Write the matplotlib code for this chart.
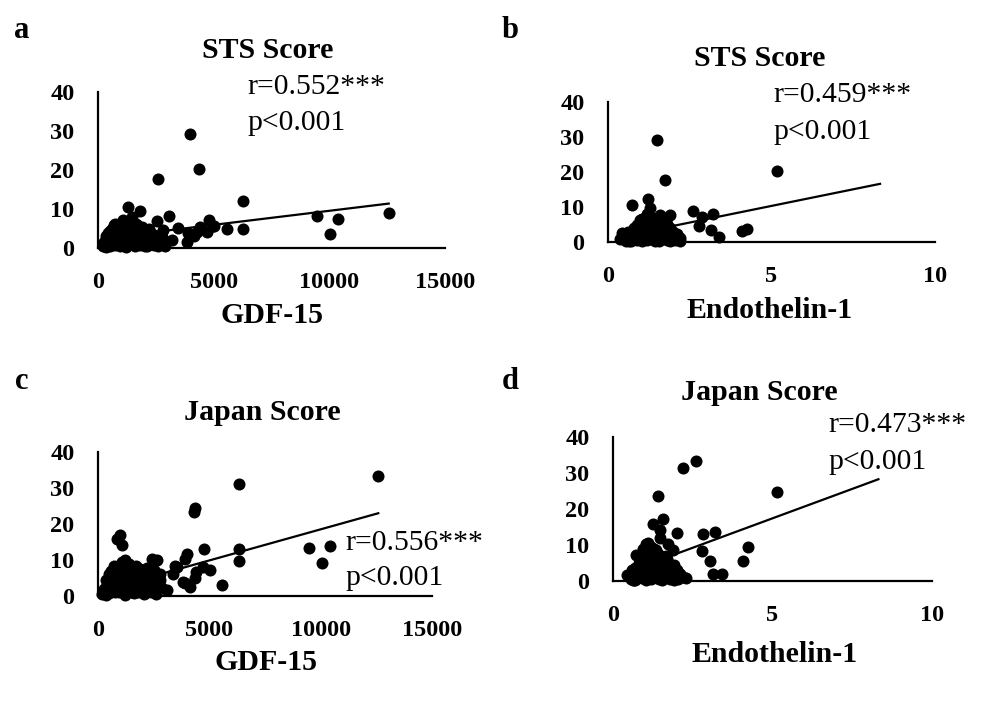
import matplotlib
matplotlib.use("Agg")
import matplotlib.pyplot as plt
import numpy as np

# ---------------- data ----------------
# Panel a: STS score vs GDF-15
a_x = [3977, 4367, 2580, 6283, 1311, 1816, 3070, 12567, 9482, 10392, 10030, 6283, 5592, 5029, 4799,
       3445, 2566, 1456, 1643, 735, 447, 2176, 3905, 3833, 3185, 2896, 4700, 4410, 4985, 2753, 4150, 4300,
       200, 300, 350, 400, 450, 500, 550, 600, 650, 700, 750, 800, 850, 900, 950, 1000, 1050, 1100, 1150,
       1200, 1250, 1300, 1350, 1400, 1450, 1500, 1550, 1600, 1650, 1700, 1750, 1800, 1850, 1900, 1950,
       2000, 2050, 2100, 2150, 2200, 2300, 2400, 2500, 2600, 2700, 2800, 900, 1100, 1200, 700, 600, 1000,
       1300, 1500, 1700, 800, 500, 1250, 1600, 950, 1400, 1800, 2200, 350, 2400, 1900, 2050, 1150,
       250, 450, 650, 850, 1050, 1250, 1450, 1650, 1850, 2050, 2250, 2450, 2650, 750, 1150, 1550, 1950,
       1350, 950, 2350]
a_y = [29.2, 20.3, 17.6, 12.0, 10.5, 9.5, 8.1, 9.1, 8.1, 7.4, 3.5, 4.8, 4.9, 5.7, 7.2,
       5.2, 6.8, 8.0, 6.1, 6.2, 3.8, 4.0, 3.8, 1.6, 2.1, 0.5, 4.2, 5.3, 5.6, 2.7, 3.0, 4.0,
       0.4, 1.0, 0.2, 2.2, 1.5, 0.6, 3.0, 1.8, 4.2, 2.5, 0.8, 5.2, 3.5, 1.2, 2.8, 6.5, 4.5, 2.0, 0.5,
       5.8, 3.2, 1.5, 4.0, 6.8, 2.4, 0.9, 5.0, 3.6, 1.8, 4.4, 2.6, 0.7, 3.0, 5.4, 1.4,
       2.2, 3.8, 0.6, 1.6, 2.9, 1.0, 3.4, 2.0, 0.4, 1.5, 4.6, 4.8, 7.2, 0.2, 6.0, 5.0, 1.0,
       6.2, 4.6, 6.0, 2.0, 4.4, 2.0, 0.5, 5.6, 3.0, 1.9, 4.8, 3.2, 0.8, 3.9, 0.4, 3.4,
       1.5, 3.0, 2.0, 4.5, 3.0, 5.0, 4.5, 3.0, 2.0, 2.5, 1.8, 2.5, 3.0, 3.5, 1.8, 2.0, 4.2,
       2.6, 0.6, 3.6]

# Panel b: STS score vs Endothelin-1
b_x = [1.49, 1.74, 5.16, 1.23, 0.72, 1.28, 2.61, 3.22, 2.87, 1.90, 1.59, 0.98, 2.79, 3.15, 3.40, 4.11,
       4.24, 0.42, 0.37, 2.10, 2.20,
       0.55, 0.6, 0.65, 0.7, 0.75, 0.8, 0.85, 0.9, 0.95, 1.0, 1.0, 1.05, 1.1, 1.1, 1.15, 1.15, 1.2, 1.2,
       1.25, 1.25, 1.3, 1.3, 1.35, 1.35, 1.4, 1.4, 1.45, 1.45, 1.5, 1.5, 1.55, 1.6, 1.6, 1.65, 1.7, 1.7,
       1.75, 1.8, 1.8, 1.85, 1.9, 1.95, 2.0, 2.05, 2.1, 0.9, 1.05, 1.2, 1.35, 0.7, 1.55, 1.9, 2.2, 1.25,
       1.45, 0.85, 1.65, 1.0,
       0.6, 0.8, 0.95, 1.05, 1.15, 1.3, 1.5, 1.7, 1.85, 2.0, 1.4, 1.15, 1.6, 0.75, 1.95]
b_y = [29.1, 17.7, 20.4, 12.2, 10.5, 9.6, 8.9, 8.0, 7.2, 7.7, 7.7, 6.3, 4.7, 3.4, 1.3, 3.2,
       3.6, 2.5, 0.8, 2.0, 1.1,
       0.4, 1.5, 0.2, 2.8, 1.0, 4.0, 2.2, 0.6, 3.5, 5.2, 1.8, 0.3, 4.6, 2.6, 6.2, 1.2, 3.4, 0.5,
       5.6, 2.0, 7.0, 3.8, 1.0, 4.8, 2.4, 6.0, 0.4, 3.2, 5.0, 1.6, 2.8, 4.2, 0.8, 6.4, 2.0, 3.6,
       1.2, 5.2, 0.5, 2.6, 4.0, 1.4, 3.0, 0.6, 2.4, 5.0, 6.6, 8.0, 6.8, 0.3, 0.3, 0.2, 0.4, 4.0,
       5.6, 3.2, 4.8, 3.0,
       3.0, 2.6, 1.4, 3.8, 4.0, 2.4, 3.6, 4.8, 1.2, 1.6, 0.9, 5.4, 2.6, 2.0, 2.8]

# Panel c: Japan score vs GDF-15
c_x = [12587, 6345, 4356, 4325, 988, 1063, 868, 9488, 10418, 10044, 6345, 6345, 4773, 3983, 3907, 5029,
       3457, 3382, 4401, 4356, 4131, 3907, 5582, 2410, 2635, 1212, 3085, 2860, 2186, 2784, 4728, 3832, 3533,
       200, 300, 350, 400, 450, 500, 550, 600, 650, 700, 750, 800, 850, 900, 950, 1000, 1050, 1100, 1150,
       1200, 1250, 1300, 1350, 1400, 1450, 1500, 1550, 1600, 1650, 1700, 1750, 1800, 1850, 1900, 1950,
       2000, 2050, 2100, 2150, 2200, 2300, 2400, 2500, 2600, 2700, 2800, 900, 1100, 1200, 700, 600, 1000,
       1300, 1500, 1700, 800, 500, 1250, 1600, 950, 1400, 1800, 2200, 350, 2400, 1900, 2050, 1150, 2500, 2700,
       250, 450, 650, 850, 1050, 1250, 1450, 1650, 1850, 2050, 2250, 2450, 2650, 750, 1150, 1550, 1950,
       1350, 950, 2350]
c_y = [33.3, 31.0, 24.4, 23.2, 16.9, 14.2, 15.7, 13.4, 13.9, 9.3, 13.1, 9.7, 13.0, 11.7, 10.2, 7.2,
       8.4, 6.1, 6.8, 4.9, 2.4, 3.7, 3.1, 10.2, 10.0, 10.0, 1.7, 2.1, 7.7, 4.4, 8.0, 4.0, 8.1,
       0.5, 1.5, 0.3, 3.0, 2.0, 0.8, 4.5, 2.5, 6.0, 3.5, 1.0, 7.5, 5.0, 1.8, 4.0, 8.5, 6.5, 3.0, 0.8,
       8.0, 4.8, 2.2, 6.0, 9.0, 3.5, 1.2, 7.0, 5.2, 2.6, 6.4, 3.8, 1.0, 4.4, 7.5, 2.0,
       3.2, 5.6, 0.9, 2.4, 4.2, 1.5, 5.0, 3.0, 0.6, 2.2, 6.0, 6.8, 9.5, 0.3, 8.2, 7.0, 1.5,
       8.6, 6.4, 8.3, 3.0, 6.0, 3.0, 0.8, 7.8, 4.4, 2.8, 6.6, 4.5, 1.2, 5.6, 0.6, 5.0, 7.2, 4.0,
       2.0, 4.0, 3.0, 6.0, 4.0, 6.5, 5.5, 4.0, 2.5, 3.5, 2.5, 3.5, 4.5, 5.0, 2.5, 3.0, 6.0,
       3.6, 1.0, 5.0]

# Panel d: Japan score vs Endothelin-1
d_x = [2.60, 2.18, 5.13, 1.40, 1.58, 1.24, 1.47, 2.00, 2.83, 3.20, 1.47, 1.73, 4.24, 1.02, 2.78, 0.72,
       4.09, 3.04, 3.14, 3.41, 0.43, 0.64, 1.89, 1.11,
       0.55, 0.6, 0.65, 0.7, 0.75, 0.8, 0.85, 0.9, 0.95, 1.0, 1.0, 1.05, 1.1, 1.1, 1.15, 1.15, 1.2, 1.2,
       1.25, 1.25, 1.3, 1.3, 1.35, 1.35, 1.4, 1.4, 1.45, 1.45, 1.5, 1.5, 1.55, 1.6, 1.6, 1.65, 1.7, 1.7,
       1.75, 1.8, 1.8, 1.85, 1.9, 1.95, 2.0, 2.05, 2.1, 2.2, 2.3, 0.9, 1.05, 1.2, 1.35, 0.7, 1.55, 1.9,
       1.25, 1.45, 0.85, 1.65, 1.0, 0.95,
       0.6, 0.8, 0.95, 1.05, 1.15, 1.3, 1.5, 1.7, 1.85, 2.0, 1.4, 1.15, 1.6, 0.75, 1.95, 1.1, 1.3]
d_y = [33.4, 31.3, 24.8, 23.6, 17.2, 15.8, 14.2, 13.2, 13.0, 13.5, 11.9, 10.3, 9.5, 10.3, 8.3, 7.2,
       5.6, 5.6, 1.9, 1.9, 1.7, 0.3, 8.6, 10.5,
       0.5, 2.0, 0.3, 3.5, 1.2, 5.0, 2.8, 0.8, 4.4, 6.5, 2.2, 0.4, 5.8, 3.2, 7.8, 1.5, 4.2, 0.6,
       7.0, 2.5, 8.8, 4.8, 1.2, 6.0, 3.0, 7.5, 0.5, 4.0, 6.2, 2.0, 3.5, 5.2, 1.0, 4.0, 2.4, 6.0,
       1.5, 3.6, 0.6, 2.6, 4.4, 1.4, 3.0, 0.6, 2.0, 1.2, 0.8, 6.4, 8.4, 9.4, 8.6, 0.4, 0.4, 0.2,
       5.4, 7.2, 4.8, 7.0, 4.0, 9.0,
       3.0, 3.5, 1.8, 5.0, 5.4, 3.2, 4.6, 4.6, 1.4, 1.8, 1.4, 6.8, 3.2, 2.4, 3.0, 8.0, 6.6]

# Linear trend lines: (intercept, slope, x_start, x_end)
a_fit = (2.33, 0.000721, 200, 12567)
b_fit = (0.81, 1.90, 0.37, 8.32)
c_fit = (1.24, 0.001728, 200, 12587)
d_fit = (1.06, 3.27, 0.43, 8.32)

titles = ["STS Score", "STS Score", "Japan Score", "Japan Score"]
xlabels = ["GDF-15", "Endothelin-1", "GDF-15", "Endothelin-1"]
r_texts = ["r=0.552***", "r=0.459***", "r=0.556***", "r=0.473***"]
p_text = "p<0.001"
panel_letters = ["a", "b", "c", "d"]
gdf_ticks = [0, 5000, 10000, 15000]
et_ticks = [0, 5, 10]
y_ticks = [0, 10, 20, 30, 40]

# ---------------- layout ----------------
W, H = 986, 710
fig = plt.figure(figsize=(W / 100, H / 100), dpi=100)
plt.rcParams['font.family'] = ['Liberation Serif', 'DejaVu Serif']

def fx(px):
    return px / W

def fy(py):
    return 1 - py / H

# axes boxes in pixels: left, right, top, bottom
boxes = [(98, 445, 92, 248), (608, 935, 102, 242), (98, 432, 452, 596), (613, 932, 437, 581)]
datasets = [(a_x, a_y, a_fit, gdf_ticks, 15000), (b_x, b_y, b_fit, et_ticks, 10),
            (c_x, c_y, c_fit, gdf_ticks, 15000), (d_x, d_y, d_fit, et_ticks, 10)]

title_pos = [(268, 50), (760, 58), (262, 412), (759, 393)]
xlabel_pos = [(272, 315), (770, 310), (266, 663), (775, 655)]
r_pos = [(247, 87), (773, 95), (345, 543), (828, 425)]
p_pos = [(247, 123), (773, 132), (345, 578), (828, 462)]
letter_pos = [(22, 30), (510, 30), (22, 382), (510, 382)]

for i in range(4):
    l, r, t, b = boxes[i]
    ax = fig.add_axes([fx(l), fy(b), (r - l) / W, (b - t) / H])
    xs, ys, fit, xt, xmax = datasets[i]
    ax.scatter(xs, ys, s=75, color='black', linewidths=0, zorder=3, clip_on=False)
    b0, b1, x0, x1 = fit
    lx = np.array([x0, x1])
    ax.plot(lx, b0 + b1 * lx, color='black', lw=1.6, zorder=2)
    ax.set_xlim(0, xmax)
    ax.set_ylim(0, 40)
    ax.set_xticks(xt)
    ax.set_yticks(y_ticks)
    ax.set_xticklabels([str(v) for v in xt])
    for sp in ['top', 'right']:
        ax.spines[sp].set_visible(False)
    for sp in ['left', 'bottom']:
        ax.spines[sp].set_linewidth(1.6)
        ax.spines[sp].set_color('black')
    ax.tick_params(axis='both', length=0, labelsize=17.5)
    ax.tick_params(axis='x', pad=17)
    ax.tick_params(axis='y', pad=17)
    for lab in ax.get_xticklabels() + ax.get_yticklabels():
        lab.set_fontweight('bold')
    ax.patch.set_alpha(0)

    fig.text(fx(title_pos[i][0]), fy(title_pos[i][1]), titles[i], ha='center', va='center',
             fontsize=21.5, fontweight='bold')
    fig.text(fx(xlabel_pos[i][0]), fy(xlabel_pos[i][1]), xlabels[i], ha='center', va='center',
             fontsize=21.5, fontweight='bold')
    fig.text(fx(r_pos[i][0]), fy(r_pos[i][1]), r_texts[i], ha='left', va='center', fontsize=21.3)
    fig.text(fx(p_pos[i][0]), fy(p_pos[i][1]), p_text, ha='left', va='center', fontsize=21.3)
    fig.text(fx(letter_pos[i][0]), fy(letter_pos[i][1]), panel_letters[i], ha='center', va='center',
             fontsize=22, fontweight='bold')

fig.savefig("out.png", dpi=100)
